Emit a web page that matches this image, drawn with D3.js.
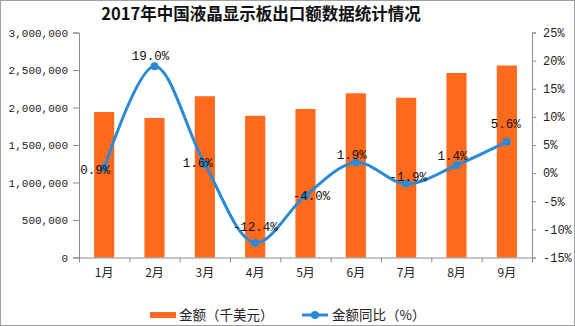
<!DOCTYPE html>
<html><head><meta charset="utf-8">
<script src="https://cdn.jsdelivr.net/npm/d3@7"></script>
<style>
body{margin:0;background:#fff;}
svg{display:block;}
</style></head>
<body>
<svg id="c" width="575" height="326"></svg>
<script>
const months = ["1月","2月","3月","4月","5月","6月","7月","8月","9月"];
const amounts = [1940000, 1860000, 2150000, 1890000, 1980000, 2190000, 2130000, 2460000, 2560000];
const growth = [0.9, 19.0, 1.6, -12.4, -4.0, 1.9, -1.9, 1.4, 5.6];
const leftTicks = [0, 500000, 1000000, 1500000, 2000000, 2500000, 3000000];
const rightTicks = [-15, -10, -5, 0, 5, 10, 15, 20, 25];
const title = "2017年中国液晶显示板出口额数据统计情况";
const legendLabels = ["金额（千美元）", "金额同比（%）"];
// label placement per point: [dx, dy]
const labelPlace = [[-9,2],[-4,-10],[-7,-1],[0,-16],[6,0],[-4,-7],[2,-7],[-4,-9],[-1,-18]];

const svg = d3.select("#c");
const W = 575, H = 326;
const L = 79, R = 532, T = 32.5, B = 257.5;
const numFont = "'Liberation Mono', 'DejaVu Sans Mono', monospace";
const cjkFont = "'Noto Sans CJK SC', sans-serif";

svg.append("rect").attr("x",0.5).attr("y",0.5).attr("width",W-1).attr("height",H-1)
  .attr("fill","#fff").attr("stroke","#a0a0a0");

const x = d3.scaleBand().domain(months).range([L,R]).paddingInner(0.6).paddingOuter(0.3);
const yL = d3.scaleLinear().domain([0,3000000]).range([B,T]);
const yR = d3.scaleLinear().domain([-15,25]).range([B,T]);

// title
svg.append("text").attr("x",261).attr("y",20).attr("text-anchor","middle")
  .attr("font-family",cjkFont).attr("font-weight","bold").attr("font-size",16.5)
  .attr("fill","#111").text(title);

// bars
svg.append("g").selectAll("rect").data(amounts).join("rect")
  .attr("x",(d,i)=>x(months[i])).attr("width",x.bandwidth())
  .attr("y",d=>yL(d)).attr("height",d=>B-yL(d)).attr("fill","#FF6A1C");

// axes
const axisColor = "#8c8c8c";
const gL = svg.append("g").attr("transform",`translate(${L},0)`)
  .call(d3.axisLeft(yL).tickValues(leftTicks).tickFormat(d3.format(",")).tickSize(6).tickPadding(5));
const gR = svg.append("g").attr("transform",`translate(${R},0)`)
  .call(d3.axisRight(yR).tickValues(rightTicks).tickFormat(d=>d+"%").tickSize(4).tickPadding(7));
const xb = d3.scaleLinear().domain([0,months.length]).range([L,R]);
const gX = svg.append("g").attr("transform",`translate(0,${B})`)
  .call(d3.axisBottom(xb).tickValues(d3.range(0,months.length+1)).tickFormat("").tickSize(5).tickSizeOuter(0));
[gL,gR,gX].forEach(g=>{
  g.selectAll("path,line").attr("stroke",axisColor);
  g.selectAll("text").attr("fill","#222").attr("font-family",numFont);
});
gL.selectAll("text").attr("font-size",11);
gR.selectAll("text").attr("font-size",12);

// month labels
svg.append("g").selectAll("text").data(months).join("text")
  .attr("x",d=>x(d)+x.bandwidth()/2).attr("y",B+19).attr("text-anchor","middle")
  .attr("font-family",cjkFont).attr("font-size",12).attr("fill","#222").text(d=>d);

// line
const cx = (i)=>x(months[i])+x.bandwidth()/2;
const line = d3.line().x((d,i)=>cx(i)).y(d=>yR(d)).curve(d3.curveCatmullRom.alpha(0.5));
svg.append("path").datum(growth).attr("d",line).attr("fill","none")
  .attr("stroke","#2B8AD6").attr("stroke-width",3);
svg.append("g").selectAll("circle").data(growth).join("circle")
  .attr("cx",(d,i)=>cx(i)).attr("cy",d=>yR(d)).attr("r",4).attr("fill","#2B8AD6");

// data labels
svg.append("g").selectAll("text").data(growth).join("text")
  .attr("x",(d,i)=>cx(i)+labelPlace[i][0]).attr("y",(d,i)=>yR(d)+labelPlace[i][1]+4)
  .attr("text-anchor","middle").attr("font-family",numFont).attr("font-size",12.5)
  .attr("fill","#111").text(d=>d.toFixed(1)+"%");

// legend
const lg = svg.append("g");
lg.append("rect").attr("x",150).attr("y",312).attr("width",26).attr("height",6).attr("fill","#FF6A1C");
lg.append("text").attr("x",179).attr("y",320).attr("font-family",cjkFont).attr("font-size",13.5)
  .attr("fill","#222").text(legendLabels[0]);
lg.append("line").attr("x1",302).attr("x2",328).attr("y1",315).attr("y2",315)
  .attr("stroke","#2B8AD6").attr("stroke-width",3);
lg.append("circle").attr("cx",315).attr("cy",315).attr("r",4).attr("fill","#2B8AD6");
lg.append("text").attr("x",332).attr("y",320).attr("font-family",cjkFont).attr("font-size",13.5)
  .attr("fill","#222").text(legendLabels[1]);
</script>
</body></html>
